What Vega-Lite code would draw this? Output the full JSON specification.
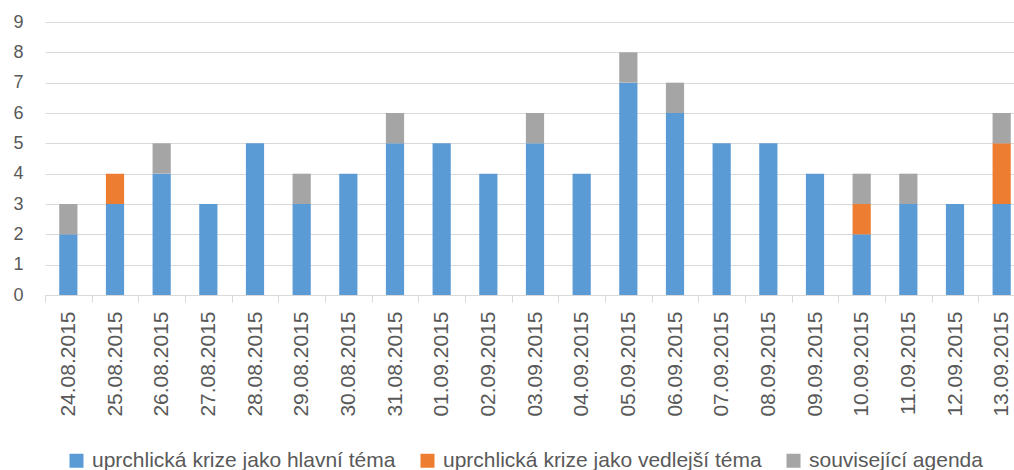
{
  "$schema": "https://vega.github.io/schema/vega-lite/v6.json",
  "width": 969,
  "height": 273,
  "autosize": "none",
  "padding": {"left": 45, "top": 22, "right": 0, "bottom": 175},
  "background": "white",
  "config": {"view": {"stroke": null}, "font": "Liberation Sans"},
  "data": {
    "values": [
      {"date": "24.08.2015", "type": "uprchlická krize jako hlavní téma", "o": 1, "value": 2},
      {"date": "24.08.2015", "type": "související agenda", "o": 3, "value": 1},
      {"date": "25.08.2015", "type": "uprchlická krize jako hlavní téma", "o": 1, "value": 3},
      {"date": "25.08.2015", "type": "uprchlická krize jako vedlejší téma", "o": 2, "value": 1},
      {"date": "26.08.2015", "type": "uprchlická krize jako hlavní téma", "o": 1, "value": 4},
      {"date": "26.08.2015", "type": "související agenda", "o": 3, "value": 1},
      {"date": "27.08.2015", "type": "uprchlická krize jako hlavní téma", "o": 1, "value": 3},
      {"date": "28.08.2015", "type": "uprchlická krize jako hlavní téma", "o": 1, "value": 5},
      {"date": "29.08.2015", "type": "uprchlická krize jako hlavní téma", "o": 1, "value": 3},
      {"date": "29.08.2015", "type": "související agenda", "o": 3, "value": 1},
      {"date": "30.08.2015", "type": "uprchlická krize jako hlavní téma", "o": 1, "value": 4},
      {"date": "31.08.2015", "type": "uprchlická krize jako hlavní téma", "o": 1, "value": 5},
      {"date": "31.08.2015", "type": "související agenda", "o": 3, "value": 1},
      {"date": "01.09.2015", "type": "uprchlická krize jako hlavní téma", "o": 1, "value": 5},
      {"date": "02.09.2015", "type": "uprchlická krize jako hlavní téma", "o": 1, "value": 4},
      {"date": "03.09.2015", "type": "uprchlická krize jako hlavní téma", "o": 1, "value": 5},
      {"date": "03.09.2015", "type": "související agenda", "o": 3, "value": 1},
      {"date": "04.09.2015", "type": "uprchlická krize jako hlavní téma", "o": 1, "value": 4},
      {"date": "05.09.2015", "type": "uprchlická krize jako hlavní téma", "o": 1, "value": 7},
      {"date": "05.09.2015", "type": "související agenda", "o": 3, "value": 1},
      {"date": "06.09.2015", "type": "uprchlická krize jako hlavní téma", "o": 1, "value": 6},
      {"date": "06.09.2015", "type": "související agenda", "o": 3, "value": 1},
      {"date": "07.09.2015", "type": "uprchlická krize jako hlavní téma", "o": 1, "value": 5},
      {"date": "08.09.2015", "type": "uprchlická krize jako hlavní téma", "o": 1, "value": 5},
      {"date": "09.09.2015", "type": "uprchlická krize jako hlavní téma", "o": 1, "value": 4},
      {"date": "10.09.2015", "type": "uprchlická krize jako hlavní téma", "o": 1, "value": 2},
      {"date": "10.09.2015", "type": "uprchlická krize jako vedlejší téma", "o": 2, "value": 1},
      {"date": "10.09.2015", "type": "související agenda", "o": 3, "value": 1},
      {"date": "11.09.2015", "type": "uprchlická krize jako hlavní téma", "o": 1, "value": 3},
      {"date": "11.09.2015", "type": "související agenda", "o": 3, "value": 1},
      {"date": "12.09.2015", "type": "uprchlická krize jako hlavní téma", "o": 1, "value": 3},
      {"date": "13.09.2015", "type": "uprchlická krize jako hlavní téma", "o": 1, "value": 3},
      {"date": "13.09.2015", "type": "uprchlická krize jako vedlejší téma", "o": 2, "value": 2},
      {"date": "13.09.2015", "type": "související agenda", "o": 3, "value": 1}
    ]
  },
  "mark": {"type": "bar", "width": {"band": 0.39}},
  "encoding": {
    "x": {
      "field": "date",
      "type": "nominal",
      "sort": null,
      "scale": {"paddingInner": 0, "paddingOuter": 0, "range": [0, 980]},
      "axis": {
        "title": null,
        "labelAngle": -90,
        "labelFontSize": 21,
        "labelColor": "#595959",
        "labelPadding": 9,
        "tickBand": "extent",
        "tickSize": 7,
        "tickColor": "#D9D9D9",
        "domainColor": "#D9D9D9",
        "grid": false
      }
    },
    "y": {
      "field": "value",
      "type": "quantitative",
      "stack": "zero",
      "scale": {"domain": [0, 9], "nice": false},
      "axis": {
        "title": null,
        "values": [0, 1, 2, 3, 4, 5, 6, 7, 8, 9],
        "domain": false,
        "ticks": false,
        "labelPadding": 22,
        "labelFontSize": 18,
        "labelColor": "#595959",
        "gridColor": "#D9D9D9",
        "gridWidth": 1
      }
    },
    "color": {
      "field": "type",
      "type": "nominal",
      "scale": {
        "domain": ["uprchlická krize jako hlavní téma", "uprchlická krize jako vedlejší téma", "související agenda"],
        "range": ["#5B9BD5", "#ED7D31", "#A5A5A5"]
      },
      "legend": {
        "title": null,
        "orient": "none",
        "legendX": 21,
        "legendY": 428,
        "direction": "horizontal",
        "symbolType": "square",
        "symbolSize": 196,
        "symbolStrokeWidth": 0,
        "labelFontSize": 21,
        "labelColor": "#595959",
        "columnPadding": 21,
        "labelOffset": 5,
        "padding": 0,
        "labelLimit": 500
      }
    },
    "order": {"field": "o", "type": "quantitative"}
  }
}
